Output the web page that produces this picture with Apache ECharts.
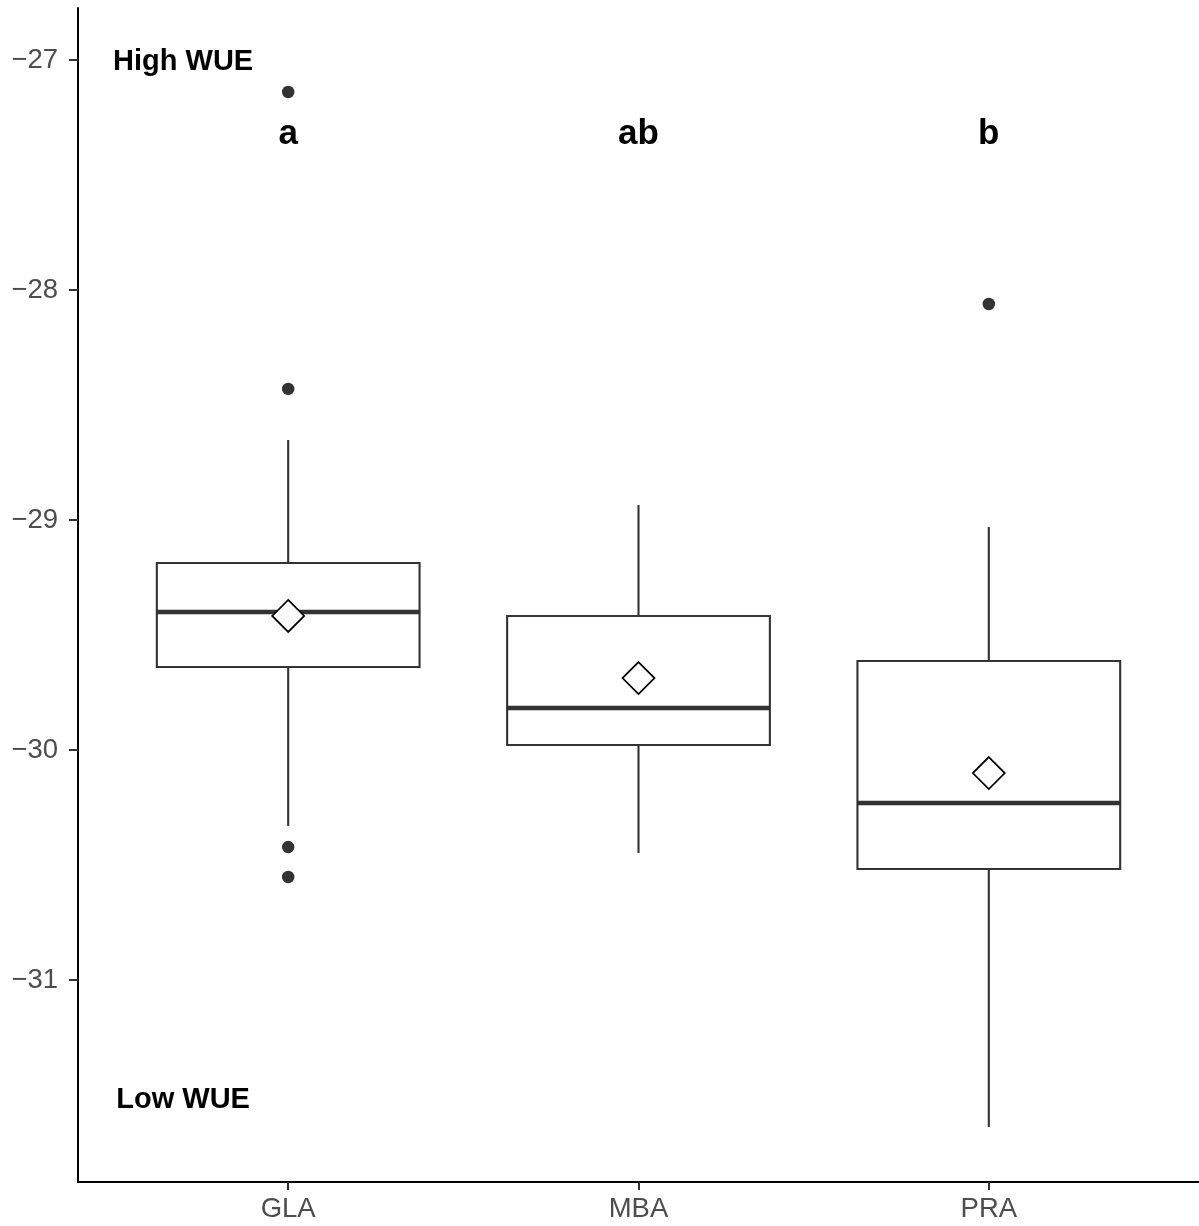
<!DOCTYPE html>
<html>
<head>
<meta charset="utf-8">
<script src="https://cdn.jsdelivr.net/npm/echarts@6/dist/echarts.min.js"></script>
<style>html,body{margin:0;padding:0;background:#fff;}#c{width:1199px;height:1226px;}</style>
</head>
<body>
<div id="c"></div>
<script>
// Categories and positions on the discrete axis
const categories = ['GLA', 'MBA', 'PRA'];
const catPos = [1, 2, 3];
// Box stats: [lowerWhisker, Q1, median, Q3, upperWhisker]
const lowerWhisker = [-30.33, -30.448, -31.639];
const q1 = [-29.639, -29.978, -30.517];
const median = [-29.40, -29.817, -30.230];
const q3 = [-29.187, -29.417, -29.613];
const upperWhisker = [-28.652, -28.935, -29.030];
// Means (diamonds)
const means = [-29.417, -29.687, -30.10];
// Outliers [category index, value]
const outliers = [[0, -27.139], [0, -28.430], [0, -30.422], [0, -30.552], [2, -28.061]];
// Significance letters
const letters = ['a', 'ab', 'b'];
const letterY = -27.322;
// Y tick labels
const yTicks = [-31, -30, -29, -28, -27];
// Annotations
const notes = [['High WUE', 0.7, -27.01], ['Low WUE', 0.7, -31.52]];

const boxData = categories.map((c, i) => [catPos[i], lowerWhisker[i], q1[i], median[i], q3[i], upperWhisker[i]]);
const meanData = categories.map((c, i) => [catPos[i], means[i]]);
const outData = outliers.map(o => [catPos[o[0]], o[1]]);
const letterData = categories.map((c, i) => [catPos[i], letterY, letters[i]]);

const chart = echarts.init(document.getElementById('c'), null, {renderer: 'canvas'});
const tickColor = '#4D4D4D';
const FONT = 'Liberation Sans, Arial, sans-serif';
chart.setOption({
  animation: false,
  backgroundColor: '#fff',
  grid: {left: 78, right: 0, top: 8, bottom: 44, containLabel: false},
  xAxis: {
    type: 'value', min: 0.4, max: 3.6,
    splitLine: {show: false},
    axisLine: {show: true, onZero: false, lineStyle: {color: '#000', width: 2}},
    axisTick: {show: true, length: 8, customValues: catPos, lineStyle: {color: '#333', width: 2}},
    axisLabel: {
      show: true, customValues: catPos, margin: 13,
      color: tickColor, fontSize: 27.5, fontFamily: FONT,
      formatter: v => categories[Math.round(v) - 1] || ''
    }
  },
  yAxis: {
    type: 'value', min: -31.878, max: -26.774,
    splitLine: {show: false},
    axisLine: {show: true, onZero: false, lineStyle: {color: '#000', width: 2}},
    axisTick: {show: true, length: 9, customValues: yTicks, lineStyle: {color: '#333', width: 2}},
    axisLabel: {
      show: true, customValues: yTicks, margin: 20,
      color: tickColor, fontSize: 27.5, fontFamily: FONT,
      formatter: v => (v < 0 ? '\u2212' + Math.abs(v) : String(v))
    }
  },
  series: [
    {
      type: 'custom',
      data: boxData,
      z: 2,
      renderItem: function (params, api) {
        const x = api.value(0);
        const pLo = api.coord([x, api.value(1)]);
        const pQ1 = api.coord([x, api.value(2)]);
        const pMed = api.coord([x, api.value(3)]);
        const pQ3 = api.coord([x, api.value(4)]);
        const pHi = api.coord([x, api.value(5)]);
        const left = api.coord([x - 0.375, api.value(2)])[0];
        const right = api.coord([x + 0.375, api.value(2)])[0];
        const stroke = '#333333';
        return {
          type: 'group',
          children: [
            {type: 'line', shape: {x1: pHi[0], y1: pHi[1], x2: pQ3[0], y2: pQ3[1]}, style: {stroke: stroke, lineWidth: 2.1}},
            {type: 'line', shape: {x1: pLo[0], y1: pLo[1], x2: pQ1[0], y2: pQ1[1]}, style: {stroke: stroke, lineWidth: 2.1}},
            {type: 'rect', shape: {x: left, y: pQ3[1], width: right - left, height: pQ1[1] - pQ3[1]}, style: {fill: '#fff', stroke: stroke, lineWidth: 2.1}},
            {type: 'line', shape: {x1: left, y1: pMed[1], x2: right, y2: pMed[1]}, style: {stroke: stroke, lineWidth: 4.5}}
          ]
        };
      }
    },
    {
      type: 'scatter', data: outData, symbol: 'circle', symbolSize: 12.5, z: 3,
      itemStyle: {color: '#333333', opacity: 1}
    },
    {
      type: 'scatter', data: meanData, symbol: 'diamond', symbolSize: 32, z: 4,
      itemStyle: {color: '#ffffff', borderColor: '#000', borderWidth: 1.7, opacity: 1}
    },
    {
      type: 'scatter', data: letterData, symbolSize: 0, z: 5, silent: true,
      itemStyle: {opacity: 1},
      label: {show: true, position: 'inside', formatter: p => p.data[2], color: '#000', fontSize: 35, fontWeight: 'bold', fontFamily: FONT}
    },
    {
      type: 'scatter', data: notes.map(n => [n[1], n[2], n[0]]), symbolSize: 0, z: 5, silent: true,
      itemStyle: {opacity: 1},
      label: {show: true, position: 'inside', formatter: p => p.data[2], color: '#000', fontSize: 29, fontWeight: 'bold', fontFamily: FONT}
    }
  ]
});
</script>
</body>
</html>
